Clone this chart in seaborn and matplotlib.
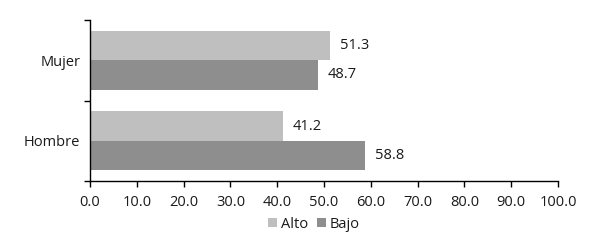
import matplotlib
matplotlib.use("Agg")
import matplotlib.pyplot as plt
import seaborn as sns
import pandas as pd
from matplotlib.patches import Patch

categories = ["Mujer", "Hombre"]
series = ["Alto", "Bajo"]
alto = [51.3, 41.2]
bajo = [48.7, 58.8]
xticks = [0, 10, 20, 30, 40, 50, 60, 70, 80, 90, 100]
colors = {"Alto": "#bfbfbf", "Bajo": "#8e8e8e"}

sns.set_style("white")
plt.rcParams["font.family"] = ["Open Sans", "DejaVu Sans"]
FS = 10.5
TC = "#1a1a1a"

df = pd.DataFrame({
    "Sexo": categories * 2,
    "Nivel": ["Alto"] * len(categories) + ["Bajo"] * len(categories),
    "Valor": alto + bajo,
})

fig = plt.figure(figsize=(5.89, 2.43), dpi=100)
ax = fig.add_axes([90 / 589, 1 - 181 / 243, (558 - 90) / 589, (181 - 20) / 243])

sns.barplot(data=df, y="Sexo", x="Valor", hue="Nivel", order=categories,
            hue_order=series, palette=colors, orient="h", width=0.73,
            linewidth=0, saturation=1, legend=False, ax=ax)

for cont in ax.containers:
    ax.bar_label(cont, fmt="%.1f", padding=7, fontsize=FS, color=TC)

ax.set_xlim(0, 100)
ax.set_ylim(1.5, -0.5)
ax.set_xticks(xticks)
ax.set_xticklabels([f"{v:.1f}" for v in xticks])
ax.set_yticks(range(len(categories)))
ax.set_yticklabels(categories)
ax.set_yticks([-0.5, 0.5, 1.5], minor=True)
ax.tick_params(axis="y", which="major", length=0, pad=7, labelsize=FS, colors=TC)
ax.tick_params(axis="y", which="minor", length=4, width=1, color="black", direction="out", left=True)
ax.tick_params(axis="x", which="major", length=4, width=1, color="black", direction="out",
               bottom=True, pad=6, labelsize=FS, labelcolor=TC)
ax.set_xlabel("")
ax.set_ylabel("")
for s in ["top", "right"]:
    ax.spines[s].set_visible(False)
for s in ["left", "bottom"]:
    ax.spines[s].set_color("black")
    ax.spines[s].set_linewidth(1)

handles = [Patch(facecolor=colors[s], edgecolor="none") for s in series]
leg = fig.legend(handles, series, loc="center", bbox_to_anchor=(314 / 589, 1 - 224 / 243),
                 ncol=2, frameon=False, handlelength=0.6, handleheight=0.6,
                 handletextpad=0.3, columnspacing=0.6, fontsize=FS)
for t in leg.get_texts():
    t.set_color(TC)

fig.savefig("out.png", dpi=100)
